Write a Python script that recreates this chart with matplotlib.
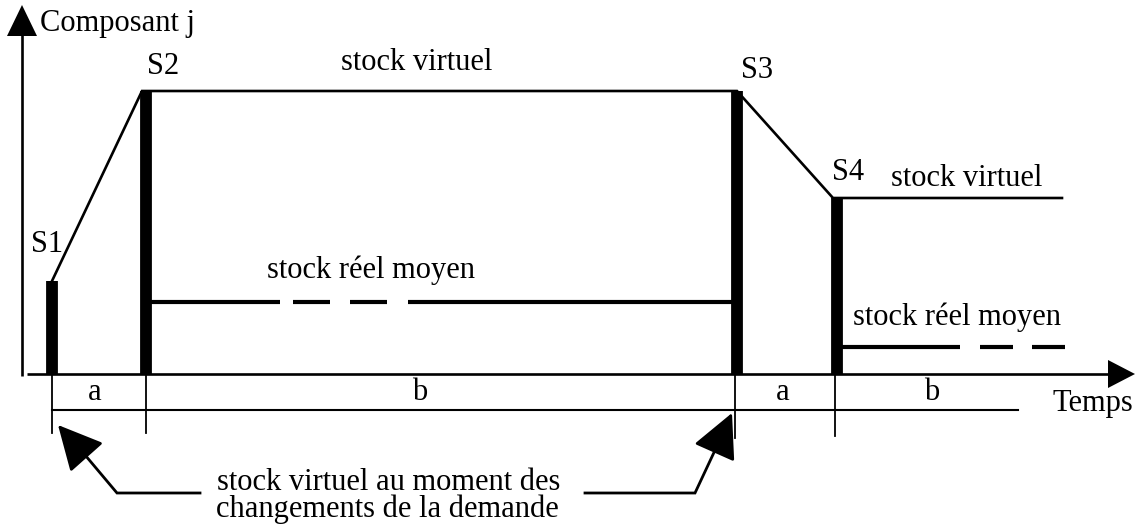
import matplotlib
matplotlib.use("Agg")
import matplotlib.pyplot as plt

plt.rcParams['font.family'] = ['Liberation Serif', 'DejaVu Serif']

# ---- data (time positions and stock levels) ----
labels_S = ["S1", "S2", "S3", "S4"]
t_change = [52, 146, 737, 837]          # instants of demand change
stock_virtual = [93, 283, 283, 176]     # virtual stock at each change
t_end = 1062                            # end of last virtual-stock plateau
real_mean_1 = 72                        # mean real stock, first period
real_mean_2 = 27                        # mean real stock, second period
seg_real_1 = [(150, 280), (293, 330), (350, 387), (408, 737)]
seg_real_2 = [(842, 960), (980, 1013), (1032, 1065)]
period_labels = ["a", "b", "a", "b"]
period_label_x = [95, 420, 783, 932]
tick_bottom = [-59, -59, -64, -62]
lower_line = (-36, 52, 1018)

fig = plt.figure(figsize=(11.35, 5.28), dpi=100)
ax = fig.add_axes([0, 0, 1, 1])
ax.set_xlim(0, 1135)
ax.set_ylim(-154, 374)
ax.axis("off")

K = "black"
FS = 22

# axes with arrows
ax.plot([22, 22], [-2, 340], color=K, lw=1.9, solid_capstyle="butt")
ax.fill([7, 22, 37], [338, 369, 338], color=K, lw=0)
ax.plot([27, 1110], [0, 0], color=K, lw=1.9, solid_capstyle="butt")
ax.fill([1108, 1135, 1108], [14, 0, -14], color=K, lw=0)

# thick stock bars
for t, s in zip(t_change, stock_virtual):
    ax.plot([t, t], [0, s], color=K, lw=8.5, solid_capstyle="butt")

# virtual stock curve
vx = [t_change[0], t_change[1] - 4, t_change[2], t_change[3] - 4, t_end]
vy = [stock_virtual[0], stock_virtual[1], stock_virtual[2], stock_virtual[3], stock_virtual[3]]
ax.plot(vx, vy, color=K, lw=1.9, solid_joinstyle="miter")

# real mean stock (solid + dashes)
for a, b in seg_real_1:
    ax.plot([a, b], [real_mean_1, real_mean_1], color=K, lw=3.0, solid_capstyle="butt")
for a, b in seg_real_2:
    ax.plot([a, b], [real_mean_2, real_mean_2], color=K, lw=3.0, solid_capstyle="butt")

# lower time scale
yl, x0, x1 = lower_line
ax.plot([x0, x1], [yl, yl], color=K, lw=1.5)
tick_x = [52, 146, 735, 835]
for tx, tb in zip(tick_x, tick_bottom):
    ax.plot([tx, tx], [0, tb], color=K, lw=1.3)
for lab, lx in zip(period_labels, period_label_x):
    ax.text(lx, -19, lab, fontsize=FS, ha="center", va="center")

# labels
ax.text(40, 350, "Composant j", fontsize=FS, ha="left", va="center")
ax.text(47, 130, "S1", fontsize=FS, ha="center", va="center")
ax.text(163, 308, "S2", fontsize=FS, ha="center", va="center")
ax.text(757, 304, "S3", fontsize=FS, ha="center", va="center")
ax.text(848, 201, "S4", fontsize=FS, ha="center", va="center")
ax.text(417, 312, "stock virtuel", fontsize=FS, ha="center", va="center")
ax.text(967, 196, "stock virtuel", fontsize=FS, ha="center", va="center")
ax.text(371, 104, "stock réel moyen", fontsize=FS, ha="center", va="center")
ax.text(957, 57, "stock réel moyen", fontsize=FS, ha="center", va="center")
ax.text(1093, -30, "Temps", fontsize=FS, ha="center", va="center")

ax.text(389, -108, "stock virtuel au moment des", fontsize=FS, ha="center", va="center")
ax.text(387, -135, "changements de la demande", fontsize=FS, ha="center", va="center")

# pointer arrows
ax.plot([200, 117, 80], [-119, -119, -75], color=K, lw=2.0, solid_joinstyle="miter")
ax.annotate("", xy=(58, -51), xytext=(82, -78),
            arrowprops=dict(arrowstyle="-|>,head_length=1.4,head_width=0.7",
                            color=K, lw=2.0, shrinkA=0, shrinkB=0, mutation_scale=20))
ax.plot([585, 695, 717], [-119, -119, -72], color=K, lw=2.0, solid_joinstyle="miter")
ax.annotate("", xy=(732, -39), xytext=(716, -75),
            arrowprops=dict(arrowstyle="-|>,head_length=1.4,head_width=0.7",
                            color=K, lw=2.0, shrinkA=0, shrinkB=0, mutation_scale=20))

fig.savefig("out.png", dpi=100)
